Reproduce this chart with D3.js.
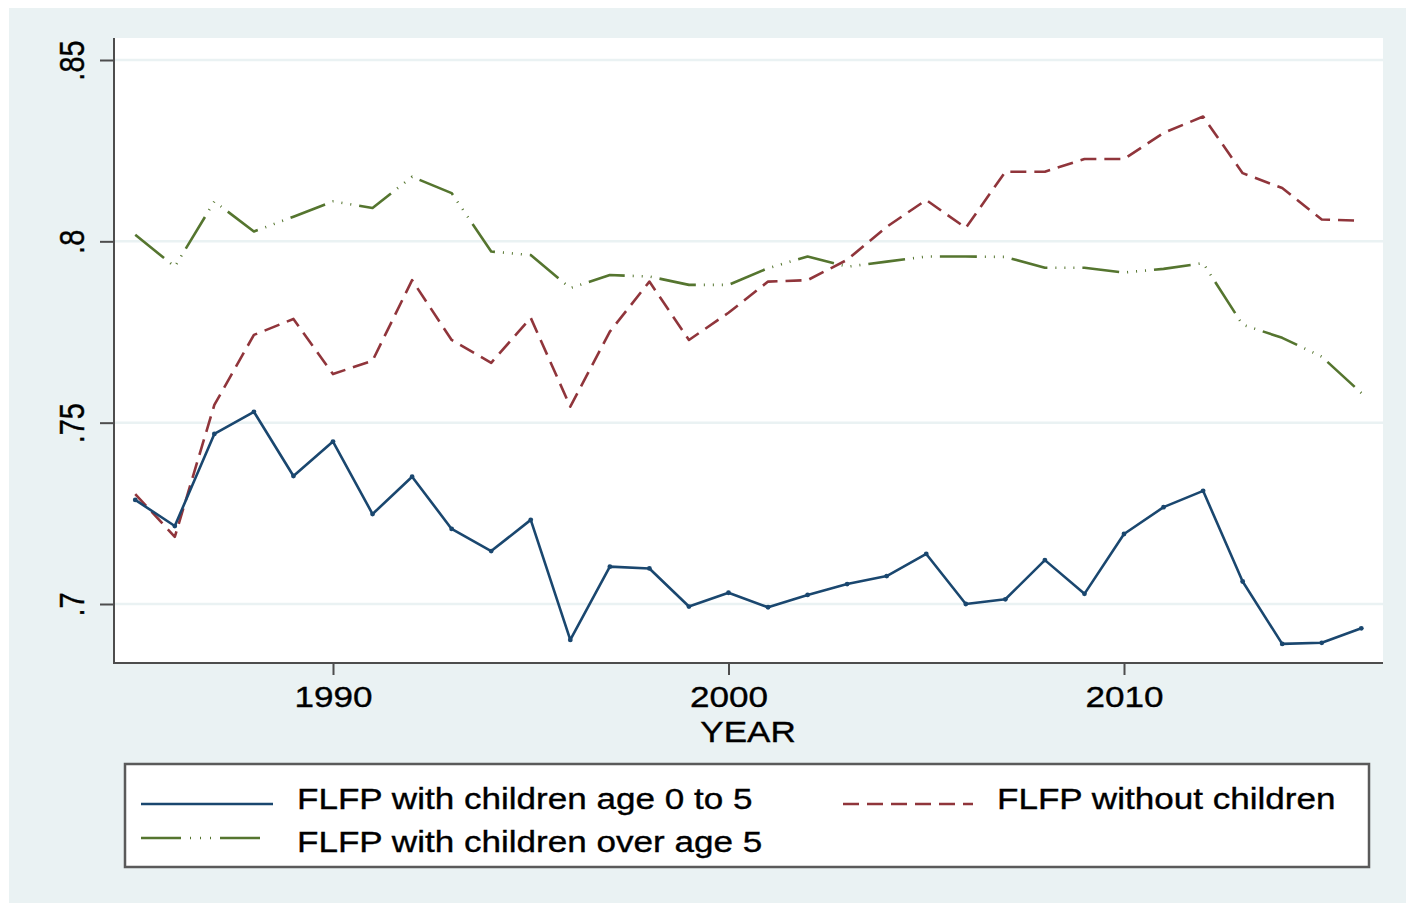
<!DOCTYPE html>
<html>
<head>
<meta charset="utf-8">
<script src="https://cdn.jsdelivr.net/npm/d3@7"></script>
<style>
  html, body { margin: 0; padding: 0; background: #eaf2f3; overflow: hidden; }
  svg { display: block; font-family: "Liberation Sans", Arial, Helvetica, sans-serif; }
</style>
</head>
<body>
<div id="chart"></div>
<script>
// values
const years = [1985, 1986, 1987, 1988, 1989, 1990, 1991, 1992, 1993, 1994, 1995,
  1996, 1997, 1998, 1999, 2000, 2001, 2002, 2003, 2004, 2005, 2006,
  2007, 2008, 2009, 2010, 2011, 2012, 2013, 2014, 2015, 2016];

const young = [0.7287, 0.7215, 0.7469, 0.7530, 0.7353, 0.7448, 0.7248, 0.7351, 0.7207, 0.7146, 0.7232,
  0.6901, 0.7103, 0.7098, 0.6993, 0.7031, 0.6991, 0.7025, 0.7055, 0.7077, 0.7138, 0.7000,
  0.7013, 0.7121, 0.7028, 0.7193, 0.7267, 0.7312, 0.7062, 0.6890, 0.6893, 0.6933];

const noKids = [0.7303, 0.7185, 0.7549, 0.7742, 0.7786, 0.7634, 0.7671, 0.7893, 0.7728, 0.7665, 0.7789,
  0.7544, 0.7751, 0.7889, 0.7728, 0.7803, 0.7889, 0.7893, 0.7949, 0.8040, 0.8114, 0.8037,
  0.8192, 0.8192, 0.8227, 0.8227, 0.8299, 0.8344, 0.8188, 0.8147, 0.8060, 0.8057];

const older = [0.8018, 0.7930, 0.8110, 0.8027, 0.8068, 0.8110, 0.8092, 0.8178, 0.8133, 0.7972, 0.7962,
  0.7871, 0.7907, 0.7903, 0.7880, 0.7880, 0.7926, 0.7958, 0.7930, 0.7944, 0.7958, 0.7958,
  0.7957, 0.7927, 0.7927, 0.7914, 0.7924, 0.7940, 0.7770, 0.7734, 0.7682, 0.7582];

const xTicks = [1990, 2000, 2010];
const yTicks = [0.7, 0.75, 0.8, 0.85];
const yTickLabels = ['.7', '.75', '.8', '.85'];

const series = [
  { name: 'FLFP with children age 0 to 5', values: young, color: '#1a476f', dash: null, keyDash: null },
  { name: 'FLFP without children', values: noKids, color: '#90353b', dash: '16,8', keyDash: '16,8' },
  { name: 'FLFP with children over age 5', values: older, color: '#55752f',
    dash: '37,8,1,8,1,8,1,8', keyDash: '40,9,1,9,1,9,1,9' }
];

const width = 1406;
const height = 903;
const plot = { left: 113, right: 1383, top: 38, bottom: 663 };
const stretch = 'scale(1.21,1)';

const svg = d3.select('#chart').append('svg')
  .attr('width', width)
  .attr('height', height);

// white margin, graph region and plot region
svg.append('rect')
  .attr('x', 0).attr('y', 0)
  .attr('width', width).attr('height', height)
  .attr('fill', '#ffffff');

svg.append('rect')
  .attr('x', 9).attr('y', 8)
  .attr('width', width - 9).attr('height', height - 8)
  .attr('fill', '#eaf2f3');

svg.append('rect')
  .attr('x', plot.left).attr('y', plot.top)
  .attr('width', plot.right - plot.left).attr('height', plot.bottom - plot.top)
  .attr('fill', '#ffffff');

const x = d3.scaleLinear().domain([1990, 2010]).range([333, 1124]);
const y = d3.scaleLinear().domain([0.7, 0.85]).range([604, 60]);

// grid
svg.append('g').attr('class', 'grid')
  .selectAll('line')
  .data(yTicks)
  .enter()
  .append('line')
  .attr('x1', plot.left)
  .attr('x2', plot.right)
  .attr('y1', d => y(d))
  .attr('y2', d => y(d))
  .attr('stroke', '#eaf2f3')
  .attr('stroke-width', 2.5);

const styleText = sel => sel
  .attr('fill', '#000')
  .attr('stroke', '#000')
  .attr('stroke-width', 0.35)
  .attr('font-size', 29);

// y axis
const yAxis = svg.append('g')
  .attr('transform', `translate(${plot.left},0)`)
  .call(d3.axisLeft(y).tickValues(yTicks).tickSize(13).tickSizeOuter(0)
    .tickFormat((d, i) => yTickLabels[i]));

yAxis.select('.domain').remove();
yAxis.selectAll('.tick line').attr('stroke', '#4d4d4d').attr('stroke-width', 2);
yAxis.selectAll('.tick text')
  .attr('x', null)
  .attr('dy', null)
  .attr('text-anchor', 'middle')
  .attr('transform', `translate(-29,0) ${stretch} rotate(-90)`)
  .call(styleText);

// x axis
const xAxis = svg.append('g')
  .attr('transform', `translate(0,${plot.bottom})`)
  .call(d3.axisBottom(x).tickValues(xTicks).tickSize(12).tickSizeOuter(0)
    .tickFormat(d3.format('d')));

xAxis.select('.domain').remove();
xAxis.selectAll('.tick line').attr('stroke', '#4d4d4d').attr('stroke-width', 2);
xAxis.selectAll('.tick text')
  .attr('y', null)
  .attr('dy', null)
  .attr('transform', `translate(0,44) ${stretch}`)
  .call(styleText);

// axis lines
svg.append('line')
  .attr('x1', plot.left + 1).attr('x2', plot.left + 1)
  .attr('y1', plot.top).attr('y2', plot.bottom)
  .attr('stroke', '#4d4d4d').attr('stroke-width', 2);

svg.append('line')
  .attr('x1', plot.left).attr('x2', plot.right)
  .attr('y1', plot.bottom).attr('y2', plot.bottom)
  .attr('stroke', '#4d4d4d').attr('stroke-width', 2);

svg.append('text')
  .attr('transform', `translate(${(plot.left + plot.right) / 2},742) ${stretch}`)
  .attr('text-anchor', 'middle')
  .call(styleText)
  .text('YEAR');

// lines
const line = d3.line()
  .x((d, i) => x(years[i]))
  .y(d => y(d));

const drawOrder = [series[2], series[1], series[0]];

svg.append('g').attr('class', 'lines')
  .selectAll('path')
  .data(drawOrder)
  .enter()
  .append('path')
  .attr('d', d => line(d.values))
  .attr('fill', 'none')
  .attr('stroke', d => d.color)
  .attr('stroke-width', 2.6)
  .attr('stroke-linejoin', 'round')
  .attr('stroke-dasharray', d => d.dash);

svg.append('g').attr('class', 'dots')
  .selectAll('circle')
  .data(series[0].values)
  .enter()
  .append('circle')
  .attr('cx', (d, i) => x(years[i]))
  .attr('cy', d => y(d))
  .attr('r', 2.4)
  .attr('fill', series[0].color);

// legend
const legend = svg.append('g').attr('class', 'legend');

legend.append('rect')
  .attr('x', 125).attr('y', 764)
  .attr('width', 1369 - 125).attr('height', 867 - 764)
  .attr('fill', '#fff')
  .attr('stroke', '#5a5a5a')
  .attr('stroke-width', 2.5);

const legendItems = [
  { s: series[0], kx: 141, kw: 132, ky: 804, tx: 297, ty: 809 },
  { s: series[1], kx: 843, kw: 130, ky: 804, tx: 997, ty: 809 },
  { s: series[2], kx: 141, kw: 126, ky: 838, tx: 297, ty: 852 }
];

const item = legend.selectAll('g.item')
  .data(legendItems)
  .enter()
  .append('g')
  .attr('class', 'item');

item.append('line')
  .attr('x1', d => d.kx)
  .attr('x2', d => d.kx + d.kw)
  .attr('y1', d => d.ky)
  .attr('y2', d => d.ky)
  .attr('stroke', d => d.s.color)
  .attr('stroke-width', 2.6)
  .attr('stroke-dasharray', d => d.s.keyDash);

item.append('text')
  .attr('transform', d => `translate(${d.tx},${d.ty}) ${stretch}`)
  .call(styleText)
  .text(d => d.s.name);
</script>
</body>
</html>
